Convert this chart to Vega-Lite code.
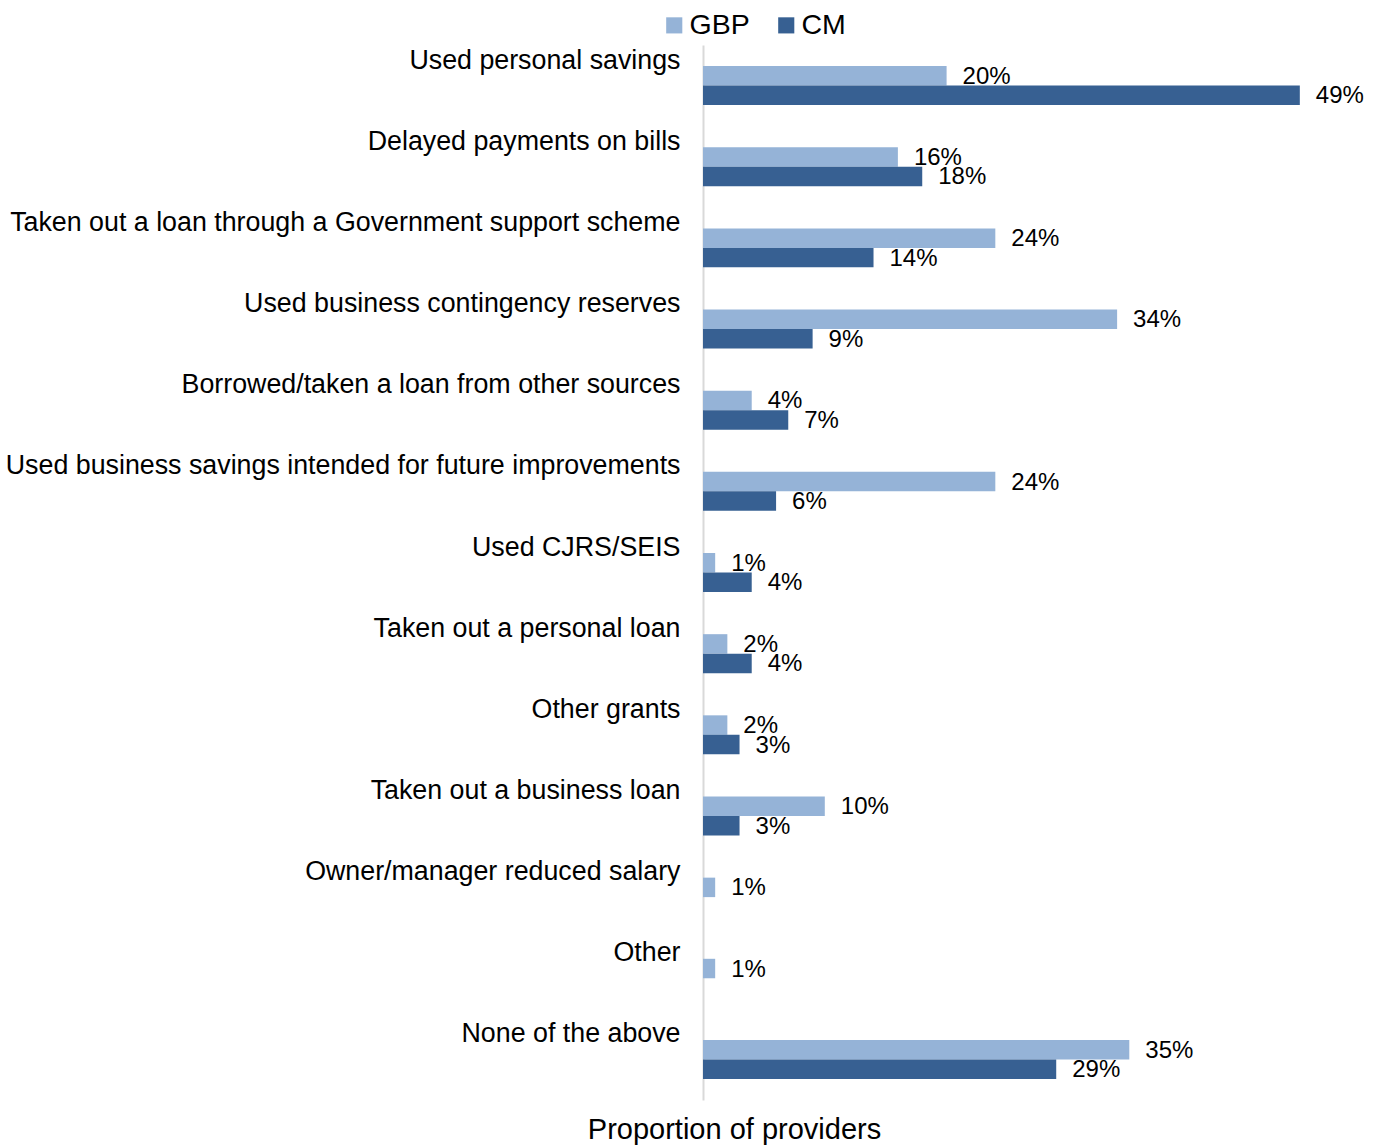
{
  "$schema": "https://vega.github.io/schema/vega-lite/v6.json",
  "width": 609,
  "height": 1055,
  "autosize": {"type": "none"},
  "padding": {"left": 703, "top": 45, "right": 69, "bottom": 47},
  "config": {
    "font": "Liberation Sans",
    "view": {"stroke": null}
  },
  "data": {
    "values": [
      {"cat": "Used personal savings", "series": "GBP", "value": 0.20},
      {"cat": "Used personal savings", "series": "CM", "value": 0.49},
      {"cat": "Delayed payments on bills", "series": "GBP", "value": 0.16},
      {"cat": "Delayed payments on bills", "series": "CM", "value": 0.18},
      {"cat": "Taken out a loan through a Government support scheme", "series": "GBP", "value": 0.24},
      {"cat": "Taken out a loan through a Government support scheme", "series": "CM", "value": 0.14},
      {"cat": "Used business contingency reserves", "series": "GBP", "value": 0.34},
      {"cat": "Used business contingency reserves", "series": "CM", "value": 0.09},
      {"cat": "Borrowed/taken a loan from other sources", "series": "GBP", "value": 0.04},
      {"cat": "Borrowed/taken a loan from other sources", "series": "CM", "value": 0.07},
      {"cat": "Used business savings intended for future improvements", "series": "GBP", "value": 0.24},
      {"cat": "Used business savings intended for future improvements", "series": "CM", "value": 0.06},
      {"cat": "Used CJRS/SEIS", "series": "GBP", "value": 0.01},
      {"cat": "Used CJRS/SEIS", "series": "CM", "value": 0.04},
      {"cat": "Taken out a personal loan", "series": "GBP", "value": 0.02},
      {"cat": "Taken out a personal loan", "series": "CM", "value": 0.04},
      {"cat": "Other grants", "series": "GBP", "value": 0.02},
      {"cat": "Other grants", "series": "CM", "value": 0.03},
      {"cat": "Taken out a business loan", "series": "GBP", "value": 0.10},
      {"cat": "Taken out a business loan", "series": "CM", "value": 0.03},
      {"cat": "Owner/manager reduced salary", "series": "GBP", "value": 0.01},
      {"cat": "Other", "series": "GBP", "value": 0.01},
      {"cat": "None of the above", "series": "GBP", "value": 0.35},
      {"cat": "None of the above", "series": "CM", "value": 0.29}
    ]
  },
  "encoding": {
    "y": {
      "field": "cat",
      "type": "nominal",
      "sort": null,
      "scale": {"paddingInner": 0.52, "paddingOuter": 0.26},
      "axis": {
        "title": null,
        "ticks": false,
        "domainColor": "#D9D9D9",
        "domainWidth": 2,
        "labelFontSize": 26.8,
        "labelColor": "#000000",
        "labelPadding": 23,
        "labelLimit": 1000,
        "labelOffset": -25,
        "labelBaseline": "middle"
      }
    },
    "yOffset": {"field": "series", "type": "nominal", "sort": ["GBP", "CM"], "scale": {"paddingInner": 0, "paddingOuter": 0}},
    "x": {
      "field": "value",
      "type": "quantitative",
      "scale": {"domain": [0, 0.5], "nice": false},
      "axis": {
        "title": "Proportion of providers",
        "labels": false,
        "ticks": false,
        "domain": false,
        "grid": false,
        "titleFontSize": 29,
        "titleFontWeight": "normal",
        "titleColor": "#000000",
        "titleX": 31,
        "titleY": 29,
        "titleAlign": "center",
        "titleBaseline": "middle"
      }
    }
  },
  "layer": [
    {
      "mark": {"type": "bar"},
      "encoding": {
        "color": {
          "field": "series",
          "type": "nominal",
          "scale": {"domain": ["GBP", "CM"], "range": ["#95B3D7", "#376092"]},
          "legend": {
            "title": null,
            "orient": "none",
            "direction": "horizontal",
            "legendX": -43,
            "legendY": -34,
            "symbolType": "square",
            "symbolSize": 260,
            "symbolStrokeWidth": 0,
            "labelFontSize": 28.5,
            "labelColor": "#000000",
            "labelOffset": 1,
            "columnPadding": 22
          }
        }
      }
    },
    {
      "mark": {"type": "text", "align": "left", "baseline": "middle", "dx": 16, "dy": 1, "fontSize": 24, "color": "#000000"},
      "encoding": {
        "text": {"field": "value", "type": "quantitative", "format": ".0%"}
      }
    }
  ]
}
